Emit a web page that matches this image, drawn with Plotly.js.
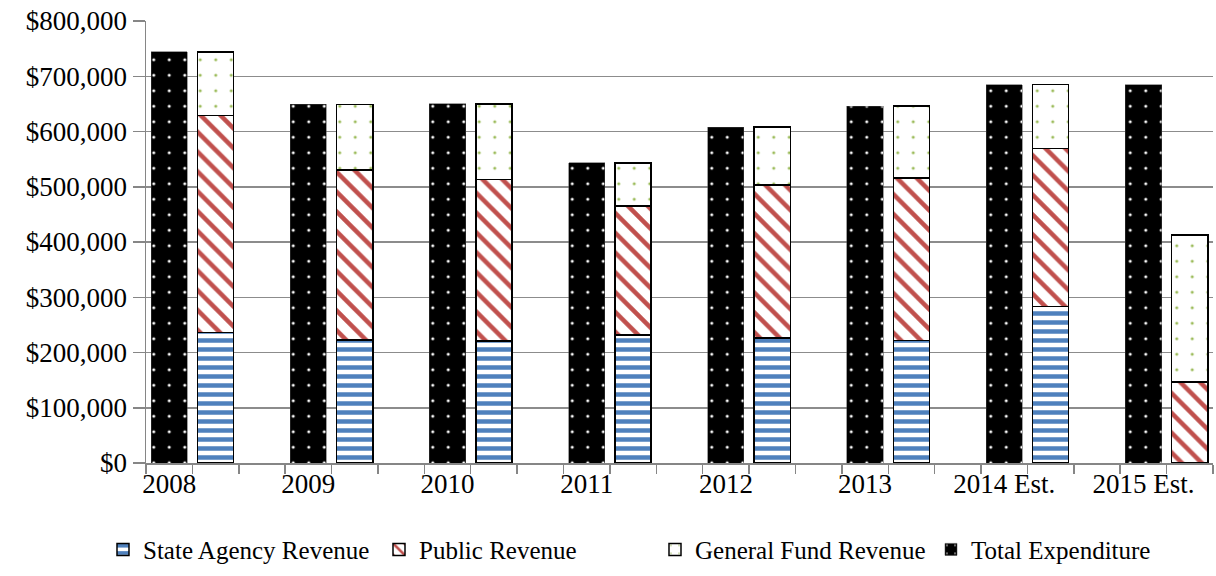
<!DOCTYPE html>
<html>
<head>
<meta charset="utf-8">
<script src="https://cdn.plot.ly/plotly-3.0.1.min.js"></script>
<style>
  html, body { margin: 0; padding: 0; background: #ffffff; }
  #chart { width: 1216px; height: 576px; }
</style>
</head>
<body>
<div id="chart"></div>
<script>
// ---- data ----
const categories = ["2008", "2009", "2010", "2011", "2012", "2013", "2014 Est.", "2015 Est."];
const stateAgencyRevenue = [236000, 223000, 221000, 232000, 226000, 222000, 283000, 0];
const publicRevenue      = [393000, 307000, 292000, 233000, 277000, 294000, 286000, 147000];
const generalFundRevenue = [115000, 119000, 137000, 78000, 105000, 130000, 116000, 266000];
const totalExpenditure   = [744000, 649000, 650000, 543000, 608000, 646000, 685000, 685000];
const yTickValues = [0, 100000, 200000, 300000, 400000, 500000, 600000, 700000, 800000];
const yTickLabels = ["$0", "$100,000", "$200,000", "$300,000", "$400,000", "$500,000", "$600,000", "$700,000", "$800,000"];

// ---- layout of slots: each year has [total, revenue stack, gap] ----
const slotsPerYear = 3;
const xTotal = categories.map((c, i) => i * slotsPerYear);
const xStack = categories.map((c, i) => i * slotsPerYear + 1);
const nSlots = categories.length * slotsPerYear - 1;

const FONT = "Liberation Serif, Times New Roman, serif";
const barW = 0.78;
const outline = { color: "#000000", width: 1.5 };

function pat(shape, fg, bg, size, solidity) {
  return { shape: shape, fgcolor: fg, bgcolor: bg, size: size, solidity: solidity, fgopacity: 1, fillmode: "overlay" };
}

const traces = [
  {
    type: "bar", name: "State Agency Revenue", x: xStack, y: stateAgencyRevenue, width: barW,
    marker: { color: "#ffffff", line: outline, pattern: pat("-", "#4F81BD", "#ffffff", 9, 0.5) },
    hoverinfo: "skip"
  },
  {
    type: "bar", name: "Public Revenue", x: xStack, y: publicRevenue, width: barW,
    marker: { color: "#ffffff", line: outline, pattern: pat("\\", "#C0504D", "#ffffff", 14, 0.32) },
    hoverinfo: "skip"
  },
  {
    type: "bar", name: "General Fund Revenue", x: xStack, y: generalFundRevenue, width: barW,
    marker: { color: "#ffffff", line: outline, pattern: pat(".", "#9BBB59", "#ffffff", 15.5, 0.03) },
    hoverinfo: "skip"
  },
  {
    type: "bar", name: "Total Expenditure", x: xTotal, y: totalExpenditure, width: barW,
    marker: { color: "#000000", line: { color: "#404040", width: 0.5 }, pattern: pat(".", "#ffffff", "#000000", 15.5, 0.03) },
    hoverinfo: "skip"
  }
];

const layout = {
  width: 1216, height: 576,
  paper_bgcolor: "#ffffff", plot_bgcolor: "#ffffff",
  margin: { l: 146, r: 3, t: 21, b: 110, pad: 0 },
  barmode: "stack",
  font: { family: FONT, color: "#000000", size: 27 },
  showlegend: true,
  legend: {
    orientation: "h", x: -0.0403, xanchor: "left", y: -0.196, yanchor: "middle",
    font: { family: FONT, size: 25, color: "#000000" },
    traceorder: "normal", entrywidth: 231, entrywidthmode: "pixels",
    itemwidth: 30, bgcolor: "rgba(0,0,0,0)"
  },
  xaxis: {
    range: [-0.5, nSlots - 0.5],
    tickmode: "array",
    tickvals: xTotal,
    ticktext: categories,
    ticks: "", ticklen: 0, showgrid: false, zeroline: false,
    ticklabelstandoff: -4,
    showline: true, linecolor: "#868686", linewidth: 1.5,
    tickfont: { family: FONT, size: 27, color: "#000000" },
    minor: { tickmode: "linear", tick0: -0.5, dtick: 1, ticks: "outside", ticklen: 9, tickcolor: "#868686", tickwidth: 1.5, showgrid: false }
  },
  yaxis: {
    range: [0, 800000],
    tickmode: "array", tickvals: yTickValues, ticktext: yTickLabels,
    ticks: "outside", ticklen: 12, tickcolor: "#868686", tickwidth: 1.5,
    showgrid: true, gridcolor: "#8c8c8c", gridwidth: 1.5,
    zeroline: false, showline: true, linecolor: "#868686", linewidth: 1.5,
    tickfont: { family: FONT, size: 27, color: "#000000" }
  }
};

Plotly.newPlot("chart", traces, layout, { displayModeBar: false, staticPlot: true });
</script>
</body>
</html>
